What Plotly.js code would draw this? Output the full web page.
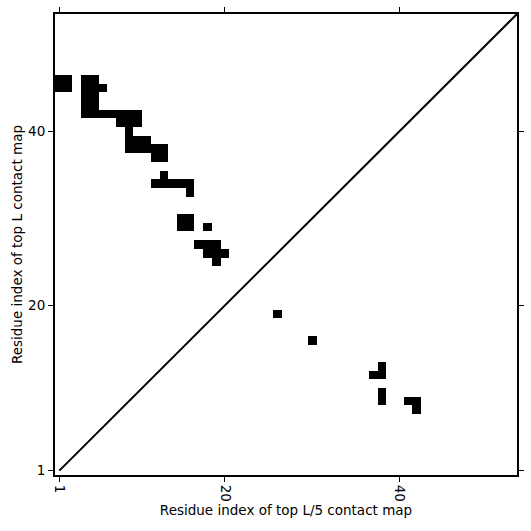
<!DOCTYPE html>
<html>
<head>
<meta charset="utf-8">
<script src="https://cdn.plot.ly/plotly-3.0.1.min.js"></script>
<style>html,body{margin:0;padding:0;background:#fff;}#chart{width:531px;height:531px;}</style>
</head>
<body>
<div id="chart"></div>
<script>
const L = 53;
const tickVals = [1, 20, 40];
const tickText = ["1", "20", "40"];
// top L contact map (upper-left triangle): x = residue i, y = residue j
const topL_x = [1,1,2,2, 4,4,4,4,4,5,5,5,5,5, 6, 6,7,8,9,10, 8,9,10, 9, 9,10,11,9,10,11, 12,13,12,13, 13, 12,13,14,15,16, 16, 15,16,15,16, 18, 17,18,19, 18,19,20, 19];
const topL_y = [45,46,45,46, 42,43,44,45,46,42,43,44,45,46, 45, 42,42,42,42,42, 41,41,41, 40, 38,38,38,39,39,39, 37,37,38,38, 35, 34,34,34,34,34, 33, 29,29,30,30, 29, 27,27,27, 26,26,26, 25];
// top L/5 contact map (lower-right triangle)
const topL5_x = [26, 30, 37, 38, 38, 38, 38, 41, 42, 42];
const topL5_y = [19, 16, 12, 12, 13, 9, 10, 9, 9, 8];
const diag = [1, L + 1];

const idx = Array.from({length: L}, (_, k) => k + 1);
const z = idx.map(() => idx.map(() => null));
function put(xs, ys){ xs.forEach((x, k) => { z[ys[k]-1][x-1] = 1; }); }
put(topL_x, topL_y);
put(topL5_x, topL5_y);

const font = {family: "DejaVu Sans", size: 13.5, color: "#000"};
const axisBase = {
  range: [0.5, L + 0.5], tickvals: tickVals, ticktext: tickText,
  ticks: "outside", ticklen: 5, tickwidth: 1, tickcolor: "#000",
  showline: true, linecolor: "#000", linewidth: 2, mirror: "ticks",
  showgrid: false, zeroline: false, tickfont: font, fixedrange: true
};
const data = [
  {type: "heatmap", x: idx, y: idx, z: z, colorscale: [[0, "#000"], [1, "#000"]],
   showscale: false, hoverongaps: false, zmin: 0, zmax: 1},
  {type: "scatter", mode: "lines", x: diag, y: diag, line: {color: "#000", width: 2},
   showlegend: false, hoverinfo: "skip"}
];
const layout = {
  width: 531, height: 531,
  margin: {l: 55, r: 14, t: 14, b: 56},
  paper_bgcolor: "#fff", plot_bgcolor: "#fff",
  showlegend: false,
  xaxis: Object.assign({}, axisBase, {tickangle: 90,
    title: {text: "Residue index of top L/5 contact map", font: font, standoff: 4}}),
  yaxis: Object.assign({}, axisBase, {
    title: {text: "Residue index of top L contact map", font: font, standoff: 2}})
};
Plotly.newPlot("chart", data, layout, {displayModeBar: false, staticPlot: true});
</script>
</body>
</html>
